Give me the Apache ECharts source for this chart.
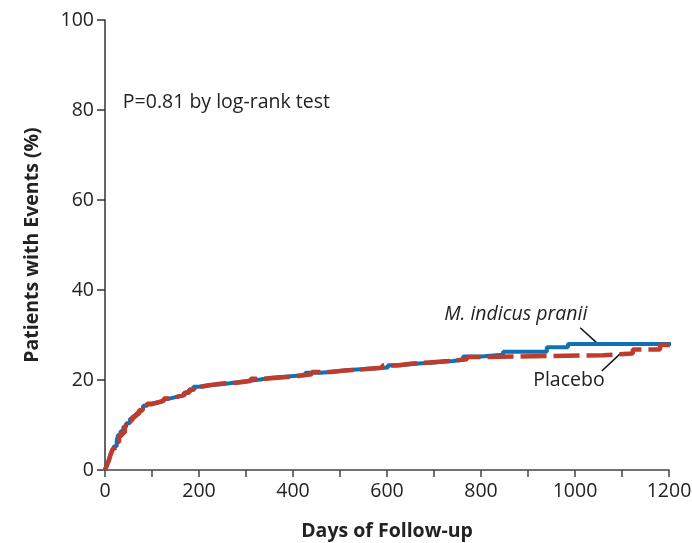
<!DOCTYPE html>
<html>
<head>
<meta charset="utf-8">
<script src="https://cdn.jsdelivr.net/npm/echarts@6/dist/echarts.min.js"></script>
<style>
html,body{margin:0;padding:0;background:#fff;}
#chart{width:692px;height:543px;}
</style>
</head>
<body>
<div id="chart"></div>
<script>
// Days of follow-up vs cumulative % with events (Kaplan-Meier style step curves)
const mipDays = [0,4,8,12,16,20,25,28,33,39,45,53,60,67,74,81,90,100,117,125,135,150,167,178,188,200,216,240,265,298,330,355,390,426,460,489,520,560,602,630,660,700,740,762,800,847,940,985,1245];
const mipPct  = [0,1.2,2.3,3.6,4.4,5.3,6.6,7.8,8.6,9.6,10.4,11.4,12.0,12.6,13.4,14.3,14.8,15.1,15.3,15.8,16.2,16.6,17.1,17.8,18.5,18.8,19.0,19.3,19.7,20.1,20.5,20.8,21.1,21.6,21.9,22.2,22.5,22.8,23.3,23.6,23.9,24.2,24.5,25.2,25.6,26.3,27.3,28.0,28.0];

const plaDays = [0,4,8,12,16,20,25,30,36,42,50,58,65,72,80,88,98,112,125,140,155,170,180,190,205,225,250,280,310,340,380,410,440,480,510,550,590,620,650,690,730,770,800,1060,1123,1181,1245];
const plaPct  = [0,1.0,2.0,3.4,4.6,5.0,6.2,7.6,8.3,9.8,11.0,11.8,12.4,13.2,14.0,14.6,15.0,15.4,15.9,16.3,16.7,17.2,17.9,18.5,18.9,19.2,19.4,19.8,20.3,20.6,20.9,21.3,21.8,22.1,22.4,22.7,23.2,23.6,23.9,24.2,24.6,25.1,25.5,25.9,26.8,27.8,27.8];

const xTicks = [0,200,400,600,800,1000,1200];
const yTicks = [0,20,40,60,80,100];

const seriesNames = ['M. indicus pranii','Placebo'];
const pText = 'P=0.81 by log-rank test';
// annotation anchors in data coordinates [days, %]
const pTextAt = [38, 81.6];
const mipLabelAt = [874, 34.6];
const mipLeader = [[1011, 31.6],[1047, 28.2]];
const plaLabelAt = [987, 19.8];
const plaLeader = [[1057, 22.0],[1096, 25.8]];

const FONT = '"Open Sans", "DejaVu Sans", sans-serif';
const FS = 19.5;
const chart = echarts.init(document.getElementById('chart'));

function zip(a,b){return a.map((v,i)=>[v,b[i]]);}

chart.setOption({
  animation:false,
  backgroundColor:'#fff',
  grid:{left:105,right:23,top:20,bottom:73,containLabel:false,outerBoundsMode:'none'},
  xAxis:{
    type:'value',min:0,max:1200,interval:100,
    name:'Days of Follow-up',nameLocation:'middle',nameGap:51,
    nameTextStyle:{fontFamily:FONT,fontWeight:'bold',fontSize:FS,color:'#222'},
    axisLine:{show:true,lineStyle:{color:'#444',width:1.5}},
    axisTick:{show:true,length:7,lineStyle:{color:'#444',width:1.5}},
    axisLabel:{margin:11,fontFamily:FONT,fontSize:FS,color:'#222',
      formatter:v=>xTicks.indexOf(v)>=0?String(v):''},
    splitLine:{show:false}
  },
  yAxis:{
    type:'value',min:0,max:100,interval:20,
    name:'Patients with Events (%)',nameLocation:'middle',nameGap:63,nameRotate:90,
    nameTextStyle:{fontFamily:FONT,fontWeight:'bold',fontSize:FS,color:'#222'},
    axisLine:{show:true,lineStyle:{color:'#333',width:1.5}},
    axisTick:{show:true,length:8,lineStyle:{color:'#333',width:1.5}},
    axisLabel:{margin:11,fontFamily:FONT,fontSize:FS,color:'#222',
      formatter:v=>yTicks.indexOf(v)>=0?String(v):''},
    splitLine:{show:false}
  },
  series:[
    {name:seriesNames[0],type:'line',step:'end',data:zip(mipDays,mipPct),
     showSymbol:false,clip:false,lineStyle:{color:'#1270b5',width:4,cap:'butt'},z:2},
    {name:seriesNames[1],type:'line',step:'end',data:zip(plaDays,plaPct),
     showSymbol:false,clip:false,lineStyle:{color:'#bf3b2c',width:4.5,type:[26,7],cap:'butt'},z:3}
  ]
});

function px(p){return chart.convertToPixel({gridIndex:0},p);}
const pP = px(pTextAt), mL = px(mipLabelAt), pL = px(plaLabelAt);
const m0 = px(mipLeader[0]), m1 = px(mipLeader[1]);
const l0 = px(plaLeader[0]), l1 = px(plaLeader[1]);
chart.setOption({
  graphic:[
    {type:'text',x:pP[0],y:pP[1],style:{text:pText,font:FS+'px '+FONT,fill:'#222',textAlign:'left',textVerticalAlign:'middle'}},
    {type:'text',x:mL[0],y:mL[1],style:{text:seriesNames[0],font:'italic '+FS+'px '+FONT,fill:'#222',textAlign:'center',textVerticalAlign:'middle'}},
    {type:'text',x:pL[0],y:pL[1],style:{text:seriesNames[1],font:FS+'px '+FONT,fill:'#222',textAlign:'center',textVerticalAlign:'middle'}},
    {type:'line',shape:{x1:m0[0],y1:m0[1],x2:m1[0],y2:m1[1]},style:{stroke:'#111',lineWidth:1.5}},
    {type:'line',shape:{x1:l0[0],y1:l0[1],x2:l1[0],y2:l1[1]},style:{stroke:'#111',lineWidth:1.5}}
  ]
});
</script>
</body>
</html>
